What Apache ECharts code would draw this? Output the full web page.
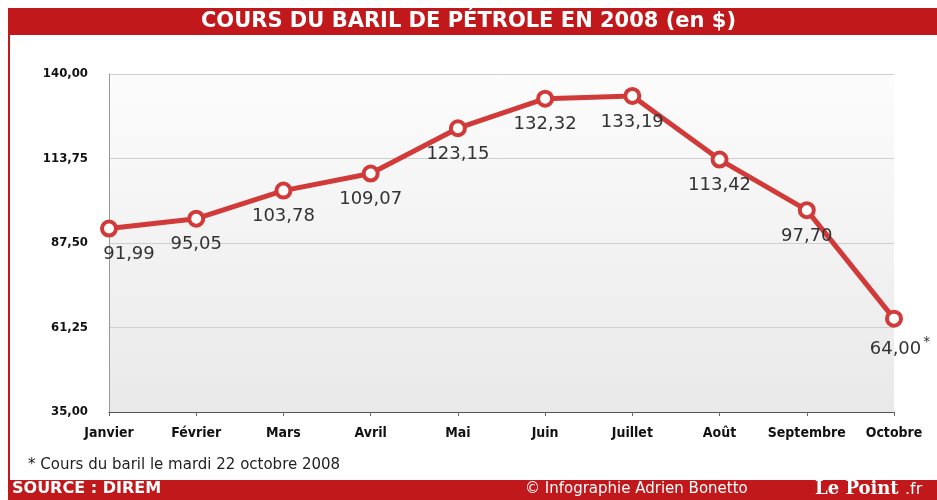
<!DOCTYPE html>
<html>
<head>
<meta charset="utf-8">
<script src="https://cdn.jsdelivr.net/npm/echarts@6/dist/echarts.min.js"></script>
<style>
  html, body { margin: 0; padding: 0; background: #fff; }
  #chart { width: 937px; height: 500px; }
</style>
</head>
<body>
<div id="chart"></div>
<script>
// mois, cours du baril (en $)
var months = ['Janvier', 'Février', 'Mars', 'Avril', 'Mai', 'Juin', 'Juillet', 'Août', 'Septembre', 'Octobre']
var prices = [91.99, 95.05, 103.78, 109.07, 123.15, 132.32, 133.19, 113.42, 97.70, 64.00]
var yTicks = [35, 61.25, 87.5, 113.75, 140]

var red = '#c1181c'
var lineRed = '#d23a3a'
var narrow = '"DejaVu Sans Condensed", "Liberation Sans Narrow", "Roboto Condensed", sans-serif'

function fr(v) {
  return v.toFixed(2).replace('.', ',')
}

var chart = echarts.init(document.getElementById('chart'))

var points = prices.map(function (v, i) {
  var item = { value: v }
  if (i === 0) {
    item.label = { offset: [20, 0] }
  }
  if (i === prices.length - 1) {
    item.label = {
      formatter: '{a|' + fr(v) + '}{s|*}',
      offset: [6, 0]
    }
  }
  return item
})

var option = {
  backgroundColor: '#fff',
  animation: false,
  grid: {
    left: 109,
    right: 43,
    top: 74,
    bottom: 88,
    show: true,
    borderWidth: 0,
    backgroundColor: {
      type: 'linear', x: 0, y: 0, x2: 0, y2: 1,
      colorStops: [
        { offset: 0, color: '#fbfcfb' },
        { offset: 1, color: '#e9e9e9' }
      ]
    }
  },
  xAxis: {
    type: 'category',
    data: months,
    boundaryGap: false,
    axisLine: { lineStyle: { color: '#555', width: 1.2 } },
    axisTick: { show: true, length: 4, interval: 0, lineStyle: { color: '#666' } },
    axisLabel: {
      interval: 0,
      color: '#111',
      fontFamily: narrow,
      fontWeight: 'bold',
      fontSize: 14,
      margin: 14
    },
    splitLine: { show: false }
  },
  yAxis: {
    type: 'value',
    min: 35,
    max: 140,
    axisLine: { show: true, lineStyle: { color: '#999', width: 1 } },
    axisTick: { show: false, customValues: yTicks },
    axisLabel: {
      customValues: yTicks,
      color: '#111',
      fontFamily: narrow,
      fontWeight: 'bold',
      fontSize: 13,
      margin: 21,
      formatter: function (v) { return fr(v) }
    },
    splitLine: { show: true, lineStyle: { color: '#cfcfcf', width: 1 } }
  },
  series: [
    {
      type: 'line',
      data: points,
      lineStyle: { color: lineRed, width: 5 },
      symbol: 'circle',
      symbolSize: 14,
      itemStyle: { color: '#fff', borderColor: lineRed, borderWidth: 4 },
      label: {
        show: true,
        position: 'bottom',
        distance: 8,
        color: '#333',
        fontFamily: 'DejaVu Sans',
        fontSize: 18,
        formatter: function (p) { return fr(p.value) },
        rich: {
          a: { color: '#333', fontFamily: 'DejaVu Sans', fontSize: 18 },
          s: { color: '#333', fontFamily: 'DejaVu Sans', fontSize: 14, verticalAlign: 'top', padding: [0, 0, 14, 2] }
        }
      },
      z: 5
    }
  ],
  graphic: [
    // bandeaux et bord gauche
    { type: 'rect', shape: { x: 8, y: 8, width: 929, height: 27 }, style: { fill: red } },
    { type: 'rect', shape: { x: 8, y: 8, width: 2, height: 472 }, style: { fill: red } },
    { type: 'rect', shape: { x: 8, y: 480, width: 929, height: 20 }, style: { fill: red } },
    {
      type: 'text', left: 'center', top: 11,
      style: {
        text: 'COURS DU BARIL DE PÉTROLE EN 2008 (en $)',
        fill: '#fff', font: 'bold 21px "DejaVu Sans"'
      }
    },
    {
      type: 'text', left: 28, top: 458,
      style: {
        text: '* Cours du baril le mardi 22 octobre 2008',
        fill: '#222', font: '15px "DejaVu Sans"'
      }
    },
    {
      type: 'text', left: 12, top: 481,
      style: { text: 'SOURCE : DIREM', fill: '#fff', font: 'bold 16px "DejaVu Sans"' }
    },
    {
      type: 'text', left: 525, top: 482,
      style: { text: '© Infographie Adrien Bonetto', fill: '#fff', font: '15px "DejaVu Sans"' }
    },
    {
      type: 'text', left: 815, top: 480,
      style: { text: 'Le Point', fill: '#fff', font: 'bold 18px "DejaVu Serif"' }
    },
    {
      type: 'text', left: 905, top: 482,
      style: { text: '.fr', fill: '#fff', font: '16px "DejaVu Sans"' }
    }
  ]
}

chart.setOption(option)
</script>
</body>
</html>
